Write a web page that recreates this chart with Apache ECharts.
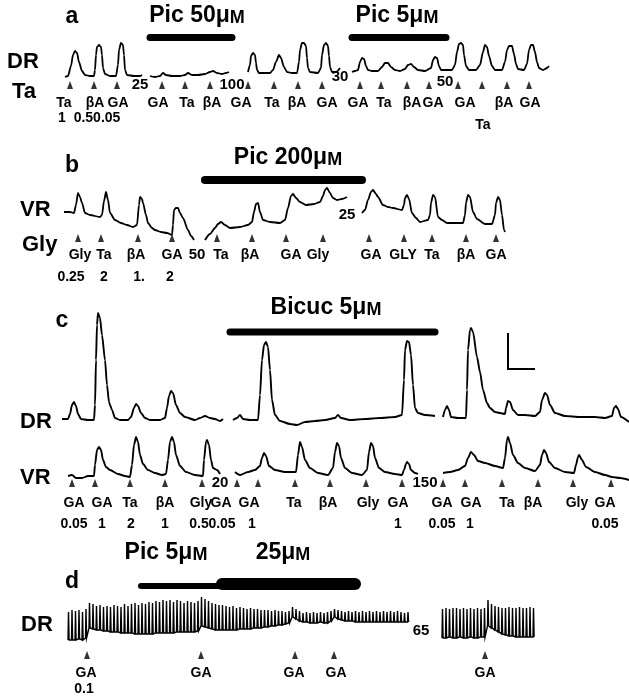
<!DOCTYPE html>
<html><head><meta charset="utf-8">
<script src="https://cdn.jsdelivr.net/npm/echarts@6/dist/echarts.min.js"></script>
<style>html,body{margin:0;padding:0;background:#fff}#c{width:629px;height:696px}</style>
</head><body><div id="c"></div>
<script>
// ===================== DATA =====================
// Panel a – DR traces [time, amplitude]
const aDR1 = [[65,53],[68,54],[71,64],[73,75],[75,79],[77,77],[79,68],[82,59],[85,55],[90,54],[94,54],[95,60],[96,75],[97,83],[99,85],[101,83],[102,75],[103,62],[105,56],[110,54],[116,54],[118,65],[119,80],[121,87],[123,85],[124,75],[125,60],[127,55],[134,54],[140,54],[142,55]];
const aDR2 = [[150,54],[155,53],[160,54],[163,57],[166,55],[172,54],[180,54],[185,55],[188,57],[192,55],[198,55],[205,56],[210,58],[213,59],[217,57],[222,56],[226,57],[229,58]];
const aDR3 = [[248,58],[250,65],[251,74],[253,77],[255,75],[256,67],[257,60],[259,57],[265,57],[270,57],[273,60],[276,68],[279,75],[281,72],[284,63],[287,58],[292,57],[297,57],[299,68],[300,80],[302,87],[304,87],[306,84],[307,72],[308,62],[310,58],[318,57],[321,62],[322,75],[324,85],[326,87],[328,84],[329,74],[330,63],[332,58],[336,58],[340,62]];
const aDR4 = [[352,58],[355,59],[358,60],[360,68],[362,72],[364,71],[366,64],[368,60],[372,59],[378,59],[382,63],[385,67],[388,67],[391,63],[395,60],[400,59],[405,61],[408,65],[411,66],[414,63],[418,60],[425,59],[431,62],[433,70],[435,73],[437,72],[439,64],[441,60],[446,60],[452,60],[455,65],[457,78],[459,86],[461,87],[463,85],[464,75],[466,64],[469,60],[476,60],[480,65],[483,78],[485,85],[487,83],[489,74],[492,64],[495,60],[502,60],[505,68],[507,80],[509,84],[512,84],[514,76],[516,66],[518,61],[524,60],[527,66],[529,80],[531,85],[533,85],[535,78],[537,68],[539,62],[543,60],[547,62],[549,64]];
const aDrugOn = [150, 352], aDrugOff = [232, 446];
const aDrugName = ['Pic 50μ', 'Pic 5μ'];
const aStim = [70,94,117,162,185,210,248,274,298,322,360,381,407,429,458,482,507,529];
const aLabT = [64,95,118,158,187,212,241,272,297,327,358,384,412,433,465,504,530];
const aLab = ['Ta','βA','GA','GA','Ta','βA','GA','Ta','βA','GA','GA','Ta','βA','GA','GA','βA','GA'];
const aLab2T = [483], aLab2 = ['Ta'];
const aDoseT = [62, 97], aDose = ['1', '0.50.05'];
const aTimeT = [140, 232, 340, 445], aTime = ['25', '100', '30', '50'];

// Panel b – VR traces
const bVR1 = [[64,73],[70,73],[74,72],[76,80],[78,92],[80,88],[82,82],[85,72],[90,70],[100,68],[102,70],[104,84],[106,93],[108,85],[110,72],[115,65],[121,62],[127,60],[133,58],[137,60],[139,80],[140,88],[142,86],[143,82],[146,70],[148,62],[152,57],[155,55],[161,53],[167,52],[172,50],[173,60],[174,75],[176,77],[178,77],[180,72],[183,67],[188,55],[191,49],[194,45]];
const bVR2 = [[205,45],[210,51],[215,57],[218,61],[221,63],[225,60],[230,57],[240,58],[248,60],[252,63],[254,73],[256,81],[258,82],[260,73],[263,65],[270,63],[280,62],[285,65],[288,77],[291,89],[293,91],[296,87],[300,83],[306,80],[314,81],[320,83],[323,89],[325,95],[327,97],[330,92],[333,87],[337,85],[342,86],[347,88]];
const bVR3 = [[362,72],[365,75],[368,85],[371,93],[373,95],[376,91],[378,88],[383,80],[388,78],[393,77],[402,75],[404,80],[405,87],[407,90],[409,86],[412,72],[416,67],[420,63],[428,65],[430,70],[431,82],[433,90],[435,88],[438,68],[442,65],[447,62],[455,62],[463,62],[465,70],[466,82],[468,90],[470,88],[473,73],[477,66],[485,61],[492,61],[495,70],[496,82],[498,88],[500,85],[502,70],[504,55],[505,53]];
const bDrugOn = [205], bDrugOff = [362], bDrugName = ['Pic 200μ'];
const bStim = [78,101,138,172,217,252,286,323,369,404,432,466,496];
const bLabT = [80,104,136,172,221,250,291,318,371,403,432,466,496];
const bLab = ['Gly','Ta','βA','GA','Ta','βA','GA','Gly','GA','GLY','Ta','βA','GA'];
const bDoseT = [71,104,139,170], bDose = ['0.25','2','1.','2'];
const bTimeT = [197, 347], bTime = ['50', '25'];

// Panel c – DR and VR traces
const cDR1 = [[62,113],[68,113],[70,118],[72,127],[74,130],[76,126],[78,118],[81,113],[88,112],[94,112],[95,127],[96,172],[97,207],[98,219],[100,214],[102,197],[105,172],[107,147],[109,130],[110,127],[112,122],[115,114],[120,112],[128,112],[131,115],[134,124],[136,128],[138,126],[141,119],[145,114],[150,112],[160,112],[165,114],[167,124],[169,136],[171,141],[173,139],[176,127],[180,119],[185,115],[195,112],[200,114],[205,116],[210,114],[215,113],[220,111],[223,113]];
const cDR2 = [[233,112],[237,114],[240,117],[243,113],[250,112],[258,112],[260,137],[262,172],[264,187],[266,190],[268,185],[270,162],[272,132],[275,117],[280,111],[290,108],[297,107],[305,110],[315,111],[325,112],[335,114],[338,117],[341,114],[350,112],[365,113],[380,114],[395,115],[402,117],[404,152],[405,182],[407,191],[409,190],[411,177],[413,147],[415,124],[418,119],[425,117],[435,116]];
const cDR3 = [[443,115],[445,122],[447,126],[449,122],[451,115],[458,114],[466,114],[467,142],[468,182],[470,202],[471,204],[473,200],[477,175],[480,160],[483,142],[487,129],[490,124],[495,120],[500,119],[505,118],[506,124],[508,131],[510,130],[513,122],[518,117],[525,117],[535,116],[540,120],[542,132],[545,139],[547,137],[550,127],[555,119],[565,116],[580,115],[595,115],[605,114],[612,116],[614,124],[616,126],[618,123],[621,115],[629,110]];
const cVR1 = [[68,56],[72,57],[76,54],[82,54],[88,56],[94,56],[95,67],[97,82],[99,85],[101,82],[103,72],[106,65],[110,62],[118,58],[125,56],[130,55],[132,67],[134,87],[136,95],[138,90],[140,77],[143,68],[148,62],[155,59],[162,57],[166,58],[168,72],[170,90],[172,95],[174,90],[176,77],[180,66],[186,60],[195,57],[203,56],[204,72],[206,90],[207,92],[209,87],[211,72],[213,64],[217,62],[220,58]];
const cVR2 = [[235,60],[240,57],[248,60],[255,62],[260,66],[262,74],[264,79],[266,76],[269,66],[275,62],[285,60],[296,60],[298,77],[300,90],[302,85],[305,72],[310,64],[318,59],[328,57],[333,64],[335,80],[337,89],[339,86],[341,74],[345,64],[352,59],[362,57],[367,62],[369,80],[371,89],[373,86],[375,74],[379,64],[385,60],[395,58],[402,57],[404,62],[406,68],[407,70],[409,68],[411,62],[415,59],[418,58]];
const cVR3 = [[443,59],[450,60],[458,62],[465,66],[468,74],[471,80],[474,77],[478,71],[485,69],[495,66],[503,64],[505,74],[507,92],[508,95],[510,89],[513,77],[518,69],[525,64],[535,61],[540,67],[542,77],[544,82],[546,79],[549,70],[555,64],[565,60],[574,59],[576,67],[578,75],[579,77],[582,72],[586,65],[595,60],[605,57],[612,55],[620,54],[629,52]];
const cDrugOn = [230], cDrugOff = [435], cDrugName = ['Bicuc 5μ'];
const cScaleBar = [[508,199],[508,163],[535,163]];
const cStim = [72,95,130,165,202,237,258,295,330,366,402,443,465,502,538,573,611];
const cLabT = [74,102,130,165,201,221,249,294,328,368,398,442,471,507,533,577,605];
const cLab = ['GA','GA','Ta','βA','Gly','GA','GA','Ta','βA','Gly','GA','GA','GA','Ta','βA','Gly','GA'];
const cDoseT = [74,102,131,165,199,222,252,398,442,470,605];
const cDose = ['0.05','1','2','1','0.5','0.05','1','1','0.05','1','0.05'];
const cTimeT = [220, 425], cTime = ['20', '150'];

// Panel d – DR rhythmic potentials: peak and trough per cycle
const dStart1 = 68, dStart2 = 442, dPeriod = 3.5;
const dTop1 = [84,86,85,86,84,87,93,92,90,91, 89,90,89,91,90,89,92,90,92,93, 91,93,92,94,93,95,94,96,95,96, 94,96,95,93,95,94,93,95,99,97,
  95,93,92,91,91,90,89,90,88,89, 88,87,88,87,87,86,86,86,85,86, 85,85,84,85,89,87,85,83,84,83, 84,83,84,83,84,85,87,86,85,84,
  85,84,85,84,85,84,85,84,85,84, 85,84,85,84,85,84,83,84];
const dBase1 = [56,56,56,57,56,58,68,67,66,66, 65,65,64,64,64,63,63,63,63,62, 62,62,62,62,62,63,63,63,63,63, 63,64,64,64,64,64,64,65,70,69,
  68,67,66,66,66,66,66,66,66,67, 67,67,67,68,68,68,69,69,70,70, 71,71,72,73,79,77,75,74,74,73, 73,73,74,73,73,75,79,77,76,75,
  75,75,74,74,74,74,74,74,74,74, 74,74,74,74,74,74,74,74];
const dTop2 = [87,88,87,88,88,87,88,87,88,87,88,87,88,96,92,90,89,88,88,89,88,88,89,88,88,89,88];
const dBase2 = [58,58,59,58,58,59,58,58,59,58,58,59,59,70,68,66,64,62,61,60,60,59,59,59,59,59,59];
const dPic5On = 141, dPic5Off = 222, dPic25On = 222, dPic25Off = 355;
const dStim = [87,201,295,334,485];
const dLabT = [86,201,294,336,485], dLab = ['GA','GA','GA','GA','GA'];
const dDoseT = [84], dDose = ['0.1'];
const dTimeT = [421], dTime = ['65'];

// ===================== LAYOUT / STYLE =====================
const INK = '#000000';
const SANS = '"Liberation Sans", Arial, sans-serif';
const G = [ {top:25,h:105}, {top:175,h:110}, {top:300,h:232}, {top:560,h:136} ];

const S = [];
function base(gi){ return {xAxisIndex:gi, yAxisIndex:gi, silent:true, animation:false}; }
function trace(gi, data, w){
  S.push(Object.assign(base(gi), {type:'line', data, symbol:'none', smooth:0.25, smoothMonotone:'x', clip:false,
    lineStyle:{color:INK, width:w||1.6, join:'round'}}));
}
function rawLine(gi, data, w, cap){
  S.push(Object.assign(base(gi), {type:'line', data, symbol:'none', clip:false,
    lineStyle:{color:INK, width:w, cap:cap||'butt', join:'miter'}}));
}
function bars(gi, on, off, v, w){ on.forEach((x,i)=>rawLine(gi, [[x,v],[off[i],v]], w, 'round')); }
function arrows(gi, xs, v){
  S.push(Object.assign(base(gi), {type:'scatter', symbol:'triangle', symbolSize:[6,8], clip:false,
    itemStyle:{color:INK}, data: xs.map(x=>[x,v])}));
}
function texts(gi, xs, names, v, size){
  S.push(Object.assign(base(gi), {type:'scatter', symbolSize:0, clip:false, itemStyle:{color:INK},
    data: xs.map((x,i)=>({value:[x,v], name:names[i]})),
    label:{show:true, position:'inside', formatter:p=>p.name, color:INK, opacity:1,
      textBorderWidth:0, textBorderColor:'transparent', textShadowBlur:0,
      fontSize:size, fontWeight:'bold', fontFamily:SANS}}));
}
function spikes(x0, tops, bases){
  const out = [];
  tops.forEach((t,i)=>{ const x = x0 + dPeriod*i; out.push([x,bases[i]],[x+0.5,t],[x+1.1,bases[i]]); });
  return out;
}

// panel a
[aDR1,aDR2,aDR3,aDR4].forEach(d=>trace(0,d,1.8));
bars(0, aDrugOn, aDrugOff, 92.5, 7);
arrows(0, aStim, 45);
texts(0, aLabT, aLab, 27, 14);
texts(0, aLab2T, aLab2, 5, 14);
texts(0, aDoseT, aDose, 12, 14);
texts(0, aTimeT.slice(0,2), aTime.slice(0,2), 45, 15);
texts(0, [aTimeT[2]], [aTime[2]], 53, 15);
texts(0, [aTimeT[3]], [aTime[3]], 48, 15);
// panel b
[bVR1,bVR2,bVR3].forEach(d=>trace(1,d,1.8));
bars(1, bDrugOn, bDrugOff, 105, 8);
arrows(1, bStim, 47);
texts(1, bLabT, bLab, 30, 14);
texts(1, bDoseT, bDose, 8, 14);
texts(1, [bTimeT[0]], [bTime[0]], 30, 15);
texts(1, [bTimeT[1]], [bTime[1]], 70, 15);
// panel c
[cDR1,cDR2,cDR3,cVR1,cVR2,cVR3].forEach(d=>trace(2,d,1.9));
bars(2, cDrugOn, cDrugOff, 200, 7);
rawLine(2, cScaleBar, 2);
arrows(2, cStim, 49);
texts(2, cLabT, cLab, 29, 14);
texts(2, cDoseT, cDose, 8, 14);
texts(2, cTimeT, cTime, 49, 15);
// panel d
rawLine(3, spikes(dStart1, dTop1, dBase1), 1.4);
rawLine(3, spikes(dStart2, dTop2, dBase2), 1.4);
rawLine(3, [[dPic5On,110],[dPic5Off,110]], 6, 'round');
rawLine(3, [[dPic25On,112],[dPic25Off,112]], 12, 'round');
arrows(3, dStim, 41);
texts(3, dLabT, dLab, 23, 14);
texts(3, dDoseT, dDose, 7, 14);
texts(3, dTimeT, dTime, 65, 15);

// static text: panel letters, row names, drug names
const GR = [];
function txt(t, x, y, size, align){
  GR.push({type:'text', x, y, silent:true, style:{text:t, fill:INK, fontSize:size, fontWeight:'bold', fontFamily:SANS,
    align:align||'left', verticalAlign:'middle'}});
}
function drug(t, x, y){
  GR.push({type:'text', x, y, silent:true, style:{text:'{a|'+t+'}{b|M}', fill:INK, align:'center', verticalAlign:'middle',
    rich:{a:{fontSize:23, fontWeight:'bold', fontFamily:SANS, verticalAlign:'bottom', fill:INK},
          b:{fontSize:18, fontWeight:'bold', fontFamily:SANS, verticalAlign:'bottom', fill:INK}}}});
}
txt('a', 72, 17, 23, 'center'); txt('b', 72, 166, 23, 'center'); txt('c', 62, 321, 23, 'center'); txt('d', 72, 582, 23, 'center');
txt('DR', 7, 62, 22); txt('Ta', 12, 92, 22);
txt('VR', 20, 210, 22); txt('Gly', 22, 245, 22);
txt('DR', 20, 422, 22); txt('VR', 20, 478, 22);
txt('DR', 21, 625, 22);
drug(aDrugName[0], 197, 16); drug(aDrugName[1], 397, 16);
drug(bDrugName[0], 288, 158); drug(cDrugName[0], 326, 308);
drug('Pic 5μ', 166, 553); drug('25μ', 283, 553);

const chart = echarts.init(document.getElementById('c'), null, {renderer:'canvas'});
chart.setOption({
  animation:false,
  backgroundColor:'#fff',
  grid: G.map(g=>({left:0, width:629, top:g.top, height:g.h, containLabel:false})),
  xAxis: G.map((g,i)=>({type:'value', gridIndex:i, min:0, max:629, show:false})),
  yAxis: G.map((g,i)=>({type:'value', gridIndex:i, min:0, max:g.h, show:false})),
  series: S,
  graphic: GR
});
</script></body></html>
